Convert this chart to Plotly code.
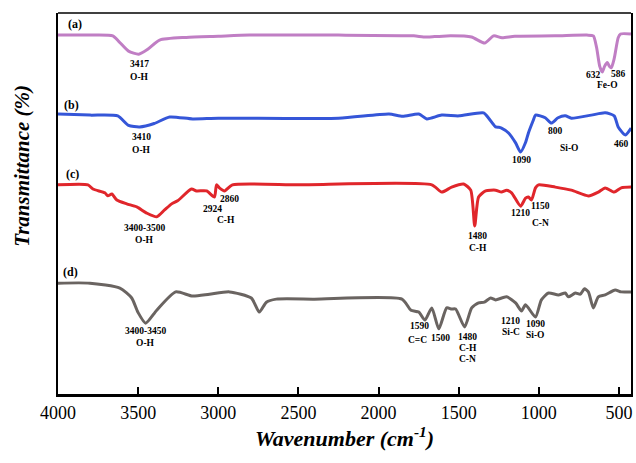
import plotly.graph_objects as go

# ---- data (wavenumber in cm-1, transmittance in arbitrary offset units) ----
wn_a = [4000, 3800, 3658, 3620, 3560, 3496, 3440, 3366, 3200, 3000, 2806, 2250, 1780, 1720, 1650,
        1550, 1420, 1338, 1282, 1230, 1150, 900, 700, 660, 640, 620, 604, 590, 573, 560, 548, 530,
        505, 490, 425]
t_a = [94.2, 94.2, 94.0, 92.5, 90.0, 89.2, 90.5, 92.9, 93.6, 93.9, 94.2, 94.2, 94.0, 93.7, 93.8,
       94.0, 93.7, 92.1, 94.0, 93.5, 93.9, 94.0, 94.2, 94.0, 91.0, 86.0, 84.5, 86.0, 87.0, 86.0,
       85.6, 88.0, 93.5, 94.5, 94.5]

wn_b = [4000, 3800, 3627, 3560, 3490, 3400, 3303, 3160, 3000, 2250, 1935, 1850, 1749, 1699, 1606,
        1500, 1345, 1313, 1270, 1250, 1233, 1189, 1145, 1114, 1083, 1065, 1034, 1021, 960, 922,
        880, 835, 797, 673, 586, 530, 505, 461, 424]
t_b = [73.5, 73.2, 73.0, 70.5, 70.1, 71.0, 72.7, 72.2, 72.4, 72.4, 73.5, 72.9, 73.5, 72.2, 73.2,
       73.0, 73.8, 72.4, 70.1, 70.0, 69.8, 68.5, 65.9, 63.5, 66.0, 68.5, 71.9, 73.2, 72.5, 71.1,
       72.5, 73.0, 72.4, 73.2, 73.8, 73.0, 70.1, 68.0, 69.8]

wn_c = [4000, 3813, 3782, 3708, 3689, 3664, 3633, 3571, 3509, 3447, 3384, 3335, 3291, 3254, 3167,
        3136, 3073, 3024, 3011, 2993, 2961, 2912, 2500, 1668, 1606, 1544, 1469, 1425, 1400, 1376,
        1332, 1270, 1233, 1201, 1170, 1114, 1083, 1065, 1046, 1021, 1002, 897, 797, 691, 629, 586,
        530, 486, 424]
t_c = [54.9, 54.9, 53.8, 52.8, 52.0, 52.5, 50.9, 49.9, 49.1, 47.5, 46.5, 48.3, 49.9, 50.7, 53.8,
       53.3, 53.3, 51.7, 54.9, 54.1, 53.3, 54.9, 54.9, 54.9, 53.0, 54.3, 55.1, 53.5, 44.1, 51.7,
       53.3, 53.5, 53.0, 53.5, 52.8, 49.3, 51.4, 51.7, 50.9, 54.1, 54.9, 54.3, 53.5, 52.0, 53.0,
       54.1, 53.0, 54.1, 54.3]

wn_d = [4000, 3801, 3614, 3540, 3502, 3453, 3384, 3266, 3160, 3055, 2930, 2794, 2744, 2700, 2638,
        2400, 1854, 1798, 1749, 1711, 1668, 1624, 1575, 1544, 1519, 1463, 1419, 1376, 1340, 1301,
        1270, 1201, 1145, 1108, 1083, 1021, 984, 940, 878, 835, 816, 772, 741, 716, 691, 660, 629,
        586, 524, 486, 424]
t_d = [29.1, 29.1, 27.8, 25.2, 21.5, 18.6, 22.0, 26.8, 25.7, 26.2, 26.8, 25.2, 21.5, 24.1, 24.9,
       24.9, 24.9, 22.0, 21.5, 19.4, 22.6, 17.1, 22.6, 22.3, 22.3, 17.6, 22.6, 23.9, 24.1, 25.2,
       24.7, 25.5, 23.9, 21.8, 23.4, 20.2, 24.7, 26.5, 26.0, 26.5, 25.5, 26.5, 26.2, 27.6, 26.8,
       22.6, 25.5, 26.0, 27.3, 26.8, 26.8]

x_ticks = [4000, 3500, 3000, 2500, 2000, 1500, 1000, 500]

# annotation labels: (text, wavenumber, transmittance)
labels = [
    ("(a)", 3894, 97.1), ("3417", 3490, 86.6), ("O-H", 3490, 83.3),
    ("632", 660, 83.7), ("586", 505, 83.9), ("Fe-O", 573, 81.0),
    ("(b)", 3913, 75.9), ("3410", 3478, 67.4), ("O-H", 3478, 64.1),
    ("800", 897, 69.0), ("Si-O", 810, 64.6), ("1090", 1108, 61.4), ("460", 486, 65.6),
    ("(c)", 3907, 57.7), ("3400-3500", 3459, 43.6), ("O-H", 3459, 40.4),
    ("2924", 3036, 48.6), ("2860", 2930, 51.2), ("C-H", 2949, 45.7),
    ("1480", 1382, 41.5), ("C-H", 1382, 38.3), ("1210", 1114, 47.5),
    ("1150", 990, 49.3), ("C-N", 990, 44.9),
    ("(d)", 3925, 32.0), ("3400-3450", 3453, 16.6), ("O-H", 3453, 13.5),
    ("1590", 1743, 17.8), ("C=C", 1757, 14.2), ("1500", 1612, 14.7),
    ("1480", 1444, 14.9), ("C-H", 1444, 12.0), ("C-N", 1444, 9.1),
    ("1210", 1176, 19.1), ("Si-C", 1176, 16.3), ("1090", 1021, 18.3), ("Si-O", 1021, 15.4),
]

series = [
    (wn_a, t_a, "#c07ec4"),
    (wn_b, t_b, "#3556d8"),
    (wn_c, t_c, "#e0262b"),
    (wn_d, t_d, "#6a6461"),
]

fig = go.Figure()
for wn, t, col in series:
    fig.add_trace(go.Scatter(x=wn, y=t, mode="lines",
                             line=dict(color=col, width=3, shape="spline", smoothing=0.6),
                             showlegend=False, hoverinfo="skip"))

for txt, x, y in labels:
    size = 12 if txt.startswith("(") else 9.5
    fig.add_annotation(x=x, y=y, text="<b>%s</b>" % txt, showarrow=False, borderpad=0,
                       font=dict(family="Liberation Serif", size=size, color="black"),
                       xanchor="center", yanchor="middle")

fig.add_annotation(xref="paper", yref="paper", x=-0.062, y=0.60,
                   text="<b><i>Transmittance (%)</i></b>", textangle=-90, showarrow=False,
                   font=dict(family="Liberation Serif", size=21, color="black"),
                   xanchor="center", yanchor="middle")

fig.add_shape(type="line", xref="paper", yref="paper", x0=0, x1=1, y0=1, y1=1,
              line=dict(color="black", width=1.5))

fig.update_layout(
    width=636, height=463,
    margin=dict(l=58, r=3, t=13, b=69),
    paper_bgcolor="white", plot_bgcolor="white",
    xaxis=dict(range=[4000, 425], tickvals=x_ticks, ticktext=[str(v) for v in x_ticks],
               ticks="inside", ticklen=7, tickwidth=2, tickcolor="black",
               showline=True, linecolor="black", linewidth=3, mirror=False,
               showgrid=False, zeroline=False,
               tickfont=dict(family="Liberation Serif", size=18, color="black"),
               title=dict(text="<b><i>Wavenumber (cm<sup>-1</sup>)</i></b>",
                          font=dict(family="Liberation Serif", size=22, color="black"),
                          standoff=5)),
    yaxis=dict(range=[0, 100], showticklabels=False, ticks="", showgrid=False,
               zeroline=False, showline=True, linecolor="black", linewidth=2, mirror=True),
)

fig.write_html("out.html")
